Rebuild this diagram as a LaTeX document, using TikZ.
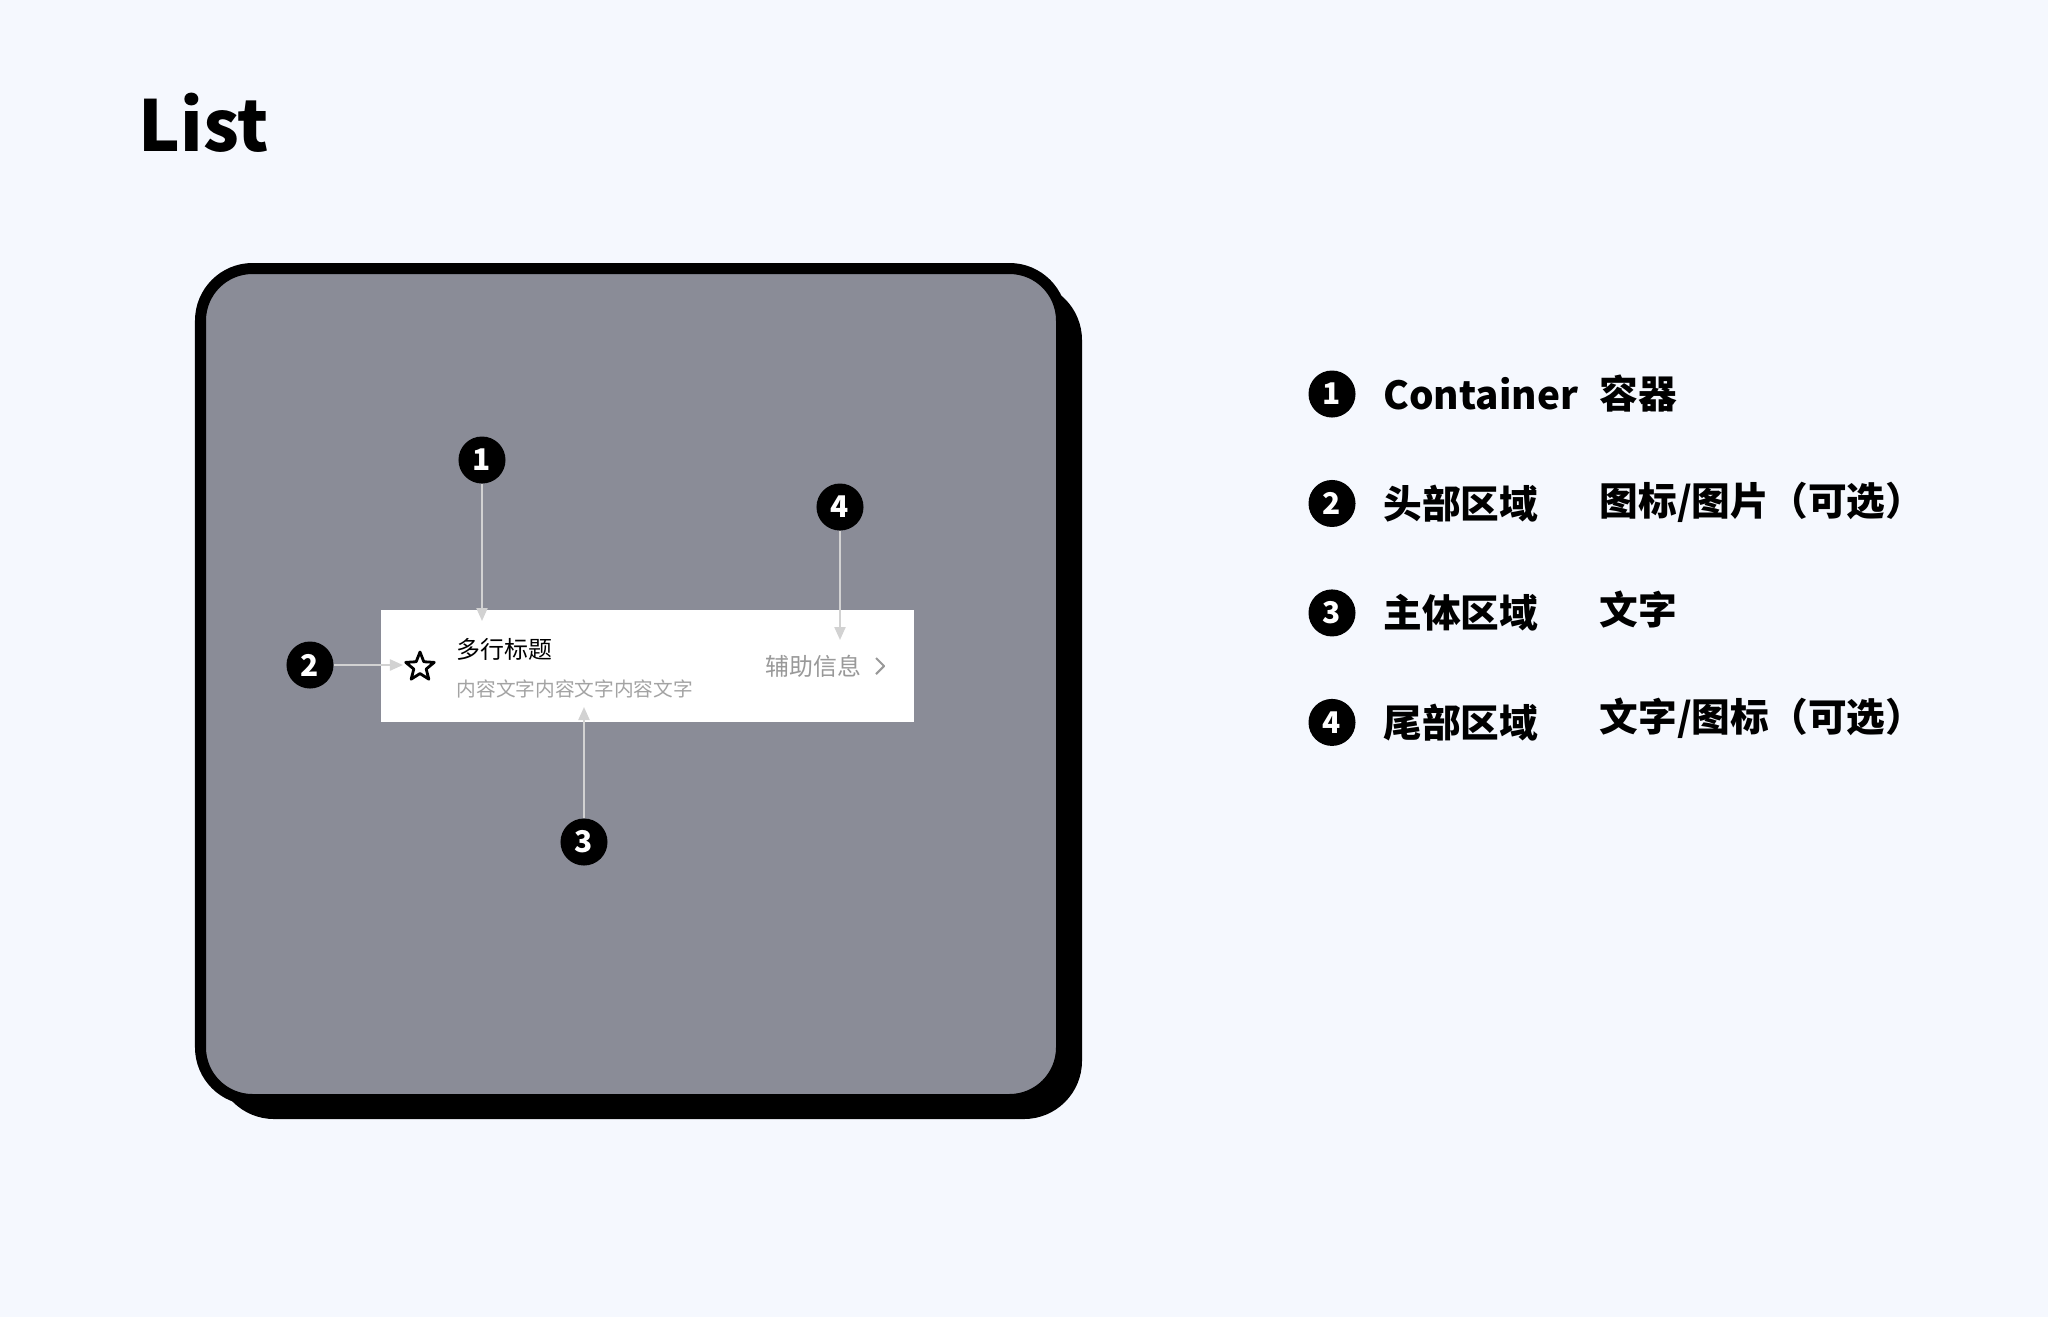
\documentclass[tikz,border=0pt]{standalone}
\usepackage{fontspec}
\setmainfont{Noto Sans CJK SC}
\usetikzlibrary{positioning,arrows.meta,shapes.geometric}
\definecolor{pagebg}{HTML}{F5F8FE}
\definecolor{panelgray}{HTML}{8A8C97}
\definecolor{leadgray}{HTML}{D2D2D2}
\definecolor{infogray}{HTML}{999999}
\definecolor{subgray}{HTML}{A3A3A3}
\tikzset{
  marker/.style={circle,fill=black,text=white,minimum size=0.47cm,inner sep=0pt,
    font=\bfseries\fontsize{8.5}{9}\selectfont},
  leader/.style={leadgray,line width=0.6pt,-{Triangle[length=0.13cm,width=0.11cm]}},
  legend/.style={anchor=west,inner sep=0pt,font=\bfseries\fontsize{11}{12}\selectfont},
  itemtext/.style={anchor=west,inner sep=0pt},
}

\begin{document}
\begin{tikzpicture}[x=0.01cm,y=-0.01cm]
   \useasboundingbox[fill=pagebg] (0,0) rectangle (2048,1317);

   \node[anchor=base west,inner sep=0pt,font=\bfseries\fontsize{20}{20}\selectfont]
      (title) at (138,151) {List};

   % container and its shadow
   \fill[black,rounded corners=0.58cm] (216,282) rectangle (1082,1119);
   \draw[fill=panelgray,line width=0.11cm,rounded corners=0.52cm]
      (200.5,268.5) rectangle (1061.5,1099.5);

   % list item
   \node[fill=white,minimum width=5.33cm,minimum height=1.12cm,inner sep=0pt]
      (item) at (647.5,666) {};
   \node[star,star points=5,star point ratio=2.3,draw,line width=0.8pt,
      line join=round,minimum size=0.3cm,inner sep=0pt] (icon) at (420,667) {};
   \node[itemtext,font=\fontsize{6.8}{7}\selectfont] (head) at (456,649) {多行标题};
   \node[itemtext,below=0.18cm of head.south west,anchor=north west,subgray,
      font=\fontsize{5.6}{6}\selectfont] (body) {内容文字内容文字内容文字};
   \node[anchor=east,inner sep=0pt,infogray,font=\fontsize{6.8}{7}\selectfont]
      (info) at (862,666) {辅助信息};
   \coordinate (chev) at (880,666);
   \draw[infogray,line width=0.6pt,line join=round]
      (chev) ++(-4,-8) -- ++(8,8) -- ++(-8,8);

   % numbered markers
   \node[marker] (m1) at (482,460) {1};
   \node[marker] (m2) at (310,665) {2};
   \node[marker] (m3) at (584,842) {3};
   \node[marker] (m4) at (840,507) {4};

   \coordinate (t1) at (482,621);
   \coordinate (t2) at (403,665);
   \coordinate (t3) at (584,707);
   \coordinate (t4) at (840,640);

   \draw[leader] (m1) -- (t1);
   \draw[leader] (m2) -- (t2);
   \draw[leader] (m3) -- (t3);
   \draw[leader] (m4) -- (t4);

   % legend
   \node[marker] (k1) at (1332,394) {1};
   \node[marker,below=0.61cm of k1] (k2) {2};
   \node[marker,below=0.61cm of k2] (k3) {3};
   \node[marker,below=0.61cm of k3] (k4) {4};

   \node[legend,right=0.265cm of k1] (n1) {Container};
   \node[legend,right=0.265cm of k2] (n2) {头部区域};
   \node[legend,right=0.265cm of k3] (n3) {主体区域};
   \node[legend,right=0.265cm of k4] (n4) {尾部区域};

   \node[legend] (d1) at (1599,394) {容器};
   \node[legend] (d2) at (1599,502) {图标/图片（可选）};
   \node[legend] (d3) at (1599,610) {文字};
   \node[legend] (d4) at (1599,718) {文字/图标（可选）};
\end{tikzpicture}
\end{document}
